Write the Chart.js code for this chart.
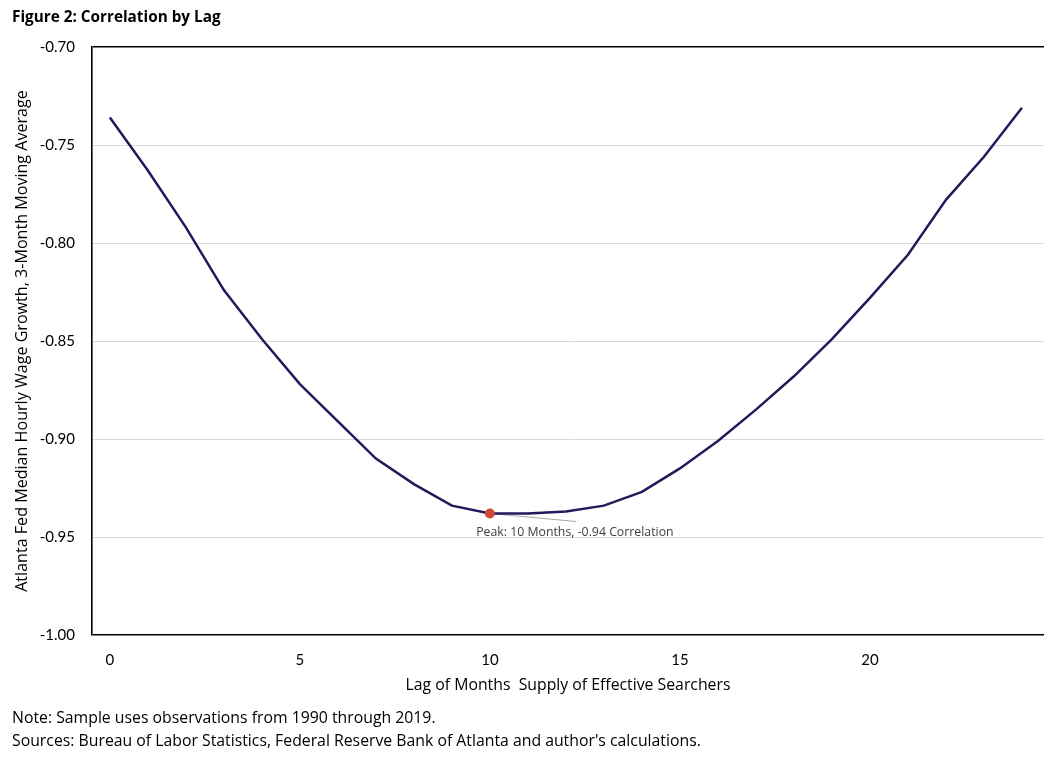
<!DOCTYPE html>
<html>
<head>
<meta charset="utf-8">
<script src="https://cdn.jsdelivr.net/npm/chart.js@4.4.1/dist/chart.umd.min.js"></script>
<style>
  html, body { margin: 0; padding: 0; background: #fff; }
  #wrap { position: relative; width: 1044px; height: 758px; overflow: hidden; font-family: "Open Sans", Lato, sans-serif; color: #000; }
  #c { position: absolute; left: 0; top: 0; }
  .txt { position: absolute; white-space: nowrap; line-height: 1; transform: translateY(-50%); }
  #title { left: 12px; top: 17px; font-weight: bold; }
  #note { left: 12px; top: 718px; }
  #src { left: 12px; top: 741px; }
</style>
</head>
<body>
<div id="wrap">
  <canvas id="c" width="1044" height="758"></canvas>
  <div id="title" class="txt">Figure 2: Correlation by Lag</div>
  <div id="note" class="txt">Note: Sample uses observations from 1990 through 2019.</div>
  <div id="src" class="txt">Sources: Bureau of Labor Statistics, Federal Reserve Bank of Atlanta and author's calculations.</div>
</div>
<script>
const lags = [0,1,2,3,4,5,6,7,8,9,10,11,12,13,14,15,16,17,18,19,20,21,22,23,24];
const correlation = [-0.736,-0.763,-0.792,-0.824,-0.849,-0.872,-0.891,-0.910,-0.923,-0.934,-0.938,-0.938,-0.937,-0.934,-0.927,-0.915,-0.901,-0.885,-0.868,-0.849,-0.828,-0.806,-0.778,-0.756,-0.731];
const xTicks = [0,5,10,15,20];
const yTicks = [-1.00,-0.95,-0.90,-0.85,-0.80,-0.75,-0.70];
const peakLag = 10;
const peakLabel = "Peak: 10 Months, -0.94 Correlation";
const xTitle = "Lag of Months  Supply of Effective Searchers";
const yTitle = "Atlanta Fed Median Hourly Wage Growth, 3-Month Moving Average";

const FONT = '"Open Sans", Lato, sans-serif';
const TICKFONT = 'Lato, sans-serif';
const peakIndex = lags.indexOf(peakLag);

// pick a font size so that the text spans the same width as in the reference
const mctx = document.createElement('canvas').getContext('2d');
function fitSize(text, weight, target) {
  mctx.font = weight + ' 100px ' + FONT;
  const w = mctx.measureText(text).width;
  return Math.round(100 * target / w * 10) / 10;
}
const titleEl = document.getElementById('title');
titleEl.style.fontSize = fitSize(titleEl.textContent, 'bold', 209) + 'px';
const noteEl = document.getElementById('note');
const srcEl = document.getElementById('src');
const footSize = fitSize(srcEl.textContent, 'normal', 690);
noteEl.style.fontSize = footSize + 'px';
srcEl.style.fontSize = footSize + 'px';
const xTitleSize = fitSize(xTitle, 'normal', 324);
const yTitleSize = fitSize(yTitle, 'normal', 502);
const peakSize = fitSize(peakLabel, 'normal', 198);

const annotationPlugin = {
  id: 'peakAnnotation',
  beforeDatasetsDraw(chart) {
    const xs = chart.scales.x, ys = chart.scales.y;
    const px = xs.getPixelForValue(lags[peakIndex]);
    const py = ys.getPixelForValue(correlation[peakIndex]);
    const ctx = chart.ctx;
    ctx.save();
    ctx.strokeStyle = '#A6A6A6';
    ctx.lineWidth = 1;
    ctx.beginPath();
    ctx.moveTo(px, py);
    ctx.lineTo(px + 86, py + 8);
    ctx.stroke();
    ctx.fillStyle = '#404040';
    ctx.font = peakSize + 'px ' + FONT;
    ctx.textAlign = 'center';
    ctx.textBaseline = 'middle';
    ctx.fillText(peakLabel, px + 85, py + 19);
    ctx.restore();
  }
};

const isEdge = v => Math.abs(v + 0.70) < 1e-6 || Math.abs(v + 1.00) < 1e-6;

new Chart(document.getElementById('c'), {
  type: 'line',
  data: {
    datasets: [{
      data: lags.map((l, i) => ({ x: l, y: correlation[i] })),
      borderColor: '#201B5A',
      borderWidth: 2.5,
      tension: 0,
      fill: false,
      pointRadius: ctx => ctx.dataIndex === peakIndex ? 5 : 0,
      pointHoverRadius: ctx => ctx.dataIndex === peakIndex ? 5 : 0,
      pointBackgroundColor: '#D04A35',
      pointBorderColor: '#D04A35',
      pointBorderWidth: 0
    }]
  },
  options: {
    responsive: false,
    animation: false,
    devicePixelRatio: 1,
    layout: { padding: { top: 47, right: 0, bottom: 53, left: 0 } },
    plugins: { legend: { display: false }, tooltip: { enabled: false }, title: { display: false } },
    scales: {
      x: {
        type: 'linear',
        min: -0.47,
        max: 24.58,
        afterBuildTicks: s => { s.ticks = xTicks.map(v => ({ value: v })); },
        afterFit: s => { s.height = 70; },
        grid: { display: false, drawTicks: false },
        border: { display: false },
        ticks: { color: '#000', font: { family: TICKFONT, size: 15 }, padding: 16, maxRotation: 0 },
        title: { display: true, text: xTitle, color: '#000', font: { family: FONT, size: xTitleSize }, padding: { top: 0, bottom: 10 } }
      },
      y: {
        min: -1.00,
        max: -0.70,
        afterBuildTicks: s => { s.ticks = yTicks.map(v => ({ value: v })); },
        afterFit: s => { s.width = 92; },
        grid: {
          drawTicks: false,
          color: c => isEdge(c.tick.value) ? '#000' : '#D9D9D9',
          lineWidth: c => isEdge(c.tick.value) ? 1.6 : 1
        },
        border: { display: true, color: '#000', width: 1.6 },
        ticks: { color: '#000', font: { family: TICKFONT, size: 15 }, padding: 17, callback: v => v.toFixed(2) },
        title: { display: true, text: yTitle, color: '#000', font: { family: FONT, size: yTitleSize }, padding: { top: 13, bottom: 0 } }
      }
    }
  },
  plugins: [annotationPlugin]
});
</script>
</body>
</html>
